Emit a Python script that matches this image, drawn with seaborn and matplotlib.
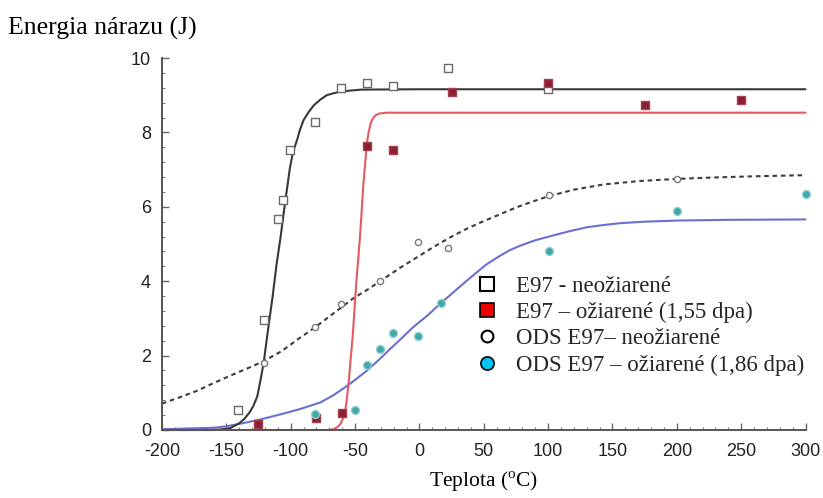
import numpy as np
import pandas as pd
import matplotlib
matplotlib.use("Agg")
import matplotlib.pyplot as plt
from matplotlib.lines import Line2D
from matplotlib.ticker import MultipleLocator
import seaborn as sns

# ---------------- data ----------------
# measured points
e97_x = [-141, -121, -110, -105.7, -100.5, -81, -61, -40.6, -20.5, 22.6, 100]
e97_y = [0.55, 2.97, 5.68, 6.17, 7.52, 8.28, 9.2, 9.32, 9.26, 9.72, 9.18]

e97irr_x = [-125.6, -80.5, -60.5, -40.7, -20.9, 25.3, 100, 175.6, 250.2]
e97irr_y = [0.15, 0.32, 0.46, 7.64, 7.52, 9.08, 9.32, 8.73, 8.86]

ods_x = [-121, -81, -61, -30.5, -0.7, 22.6, 100.4, 200.2]
ods_y = [1.81, 2.76, 3.39, 4.0, 5.05, 4.88, 6.33, 6.75]

odsirr_x = [-81, -50, -40.7, -30.5, -20.6, -0.7, 16.5, 100.4, 200.2, 300.5]
odsirr_y = [0.44, 0.55, 1.74, 2.19, 2.61, 2.52, 3.42, 4.81, 5.88, 6.35]

# fitted curves
fit_e97_x = [-200, -160, -153, -147, -140, -136, -132, -129, -126, -123.5, -121,
             -117, -114, -111, -108, -105, -100.5, -98, -95, -93, -90, -86, -82,
             -77, -72, -67, -62, -55, -45, 0, 100, 200, 300]
fit_e97_y = [0.0, 0.0, 0.02, 0.05, 0.18, 0.3, 0.47, 0.65, 0.9, 1.33, 1.81,
             2.85, 3.6, 4.45, 5.15, 5.95, 7.07, 7.5, 7.8, 8.05, 8.33, 8.55, 8.73,
             8.88, 9.0, 9.05, 9.09, 9.12, 9.15, 9.16, 9.16, 9.16, 9.16]

fit_e97irr_x = [-200, -100, -70, -66.8, -64, -61.6, -59.5, -57.7, -56.5, -55.1,
                -51.7, -49.1, -46, -43.5, -40.8, -39.5, -38, -36.5, -34, -31,
                -25, 0, 100, 200, 300]
fit_e97irr_y = [0.0, 0.0, 0.0, 0.02, 0.07, 0.15, 0.3, 0.51, 0.8, 1.23,
                2.58, 3.93, 5.27, 6.62, 7.7, 8.0, 8.22, 8.36, 8.46, 8.51,
                8.53, 8.53, 8.53, 8.53, 8.53]

fit_ods_x = [-200, -187, -173, -160, -147, -134, -121, -107, -94, -81, -67, -51,
             -40, -28, -15, -2, 11, 24, 35, 47, 60, 75, 87, 100, 120, 143, 170,
             200, 230, 260, 300]
fit_ods_y = [0.71, 0.87, 1.05, 1.26, 1.46, 1.65, 1.85, 2.12, 2.45, 2.76, 3.13,
             3.55, 3.78, 4.06, 4.36, 4.64, 4.92, 5.18, 5.38, 5.57, 5.76, 5.98,
             6.13, 6.28, 6.46, 6.6, 6.69, 6.75, 6.79, 6.82, 6.85]

fit_odsirr_x = [-200, -180, -160, -150, -139, -124, -108, -93, -85, -77, -67,
                -56, -48, -41, -32, -23, -14, -5, 6, 16, 27, 37, 45, 52, 63, 70,
                78, 90, 104, 115, 130, 143, 156, 175, 200, 240, 300]
fit_odsirr_y = [0.02, 0.04, 0.06, 0.1, 0.17, 0.28, 0.42, 0.56, 0.65, 0.74, 0.93,
                1.19, 1.4, 1.59, 1.87, 2.17, 2.46, 2.76, 3.07, 3.39, 3.72, 4.02,
                4.25, 4.45, 4.69, 4.83, 4.95, 5.1, 5.23, 5.33, 5.45, 5.51, 5.56,
                5.6, 5.63, 5.65, 5.66]

x_ticks = [-200, -150, -100, -50, 0, 50, 100, 150, 200, 250, 300]
y_ticks = [0, 2, 4, 6, 8, 10]

legend_labels = ["E97 - neožiarené",
                 "E97 – ožiarené (1,55 dpa)",
                 "ODS E97– neožiarené",
                 "ODS E97 – ožiarené (1,86 dpa)"]

# ---------------- figure ----------------
sns.set_style("ticks")
plt.rcParams["font.family"] = ["Liberation Sans", "DejaVu Sans"]
plt.rcParams["mathtext.fontset"] = "custom"
plt.rcParams["mathtext.rm"] = "Liberation Serif"

fig = plt.figure(figsize=(8.23, 4.98), dpi=100)
fig.patch.set_facecolor("white")
ax = fig.add_axes([162 / 823, 1 - 430 / 498, (805.5 - 162) / 823, (430 - 58) / 498])
ax.set_facecolor("white")

def curve(xs, ys, color, ls="-"):
    df = pd.DataFrame({"x": xs, "y": ys})
    sns.lineplot(data=df, x="x", y="y", ax=ax, color=color, linewidth=1.5,
                 sort=False, estimator=None, linestyle=ls, zorder=2,
                 clip_on=False)

curve(fit_ods_x, fit_ods_y, "#3c3c3c", ls=(0, (2.2, 1.8)))
curve(fit_odsirr_x, fit_odsirr_y, "#6b6fd0")
curve(fit_e97_x, fit_e97_y, "#383838")
curve(fit_e97irr_x, fit_e97irr_y, "#e35a62")

def points(xs, ys, marker, face, edge, size, lw=1.0):
    df = pd.DataFrame({"x": xs, "y": ys})
    sns.scatterplot(data=df, x="x", y="y", ax=ax, marker=marker, s=size,
                    facecolor=face, edgecolor=edge, linewidth=lw, zorder=4,
                    clip_on=False)

points(e97_x, e97_y, "s", "white", "#6a6a6a", 30)
points(e97irr_x, e97irr_y, "s", "#8e1f33", "#a04050", 32)
points(ods_x, ods_y, "o", "white", "#7a7a7a", 20)
points(odsirr_x, odsirr_y, "o", "#3fa9a9", "#8fcccc", 32)

ax.set_xlim(-200, 300)
ax.set_ylim(0, 10)
ax.set_xticks(x_ticks)
ax.set_yticks(y_ticks)
ax.set_xticklabels([str(v) for v in x_ticks])
ax.set_yticklabels([str(v) for v in y_ticks])
ax.xaxis.set_minor_locator(MultipleLocator(10))
ax.yaxis.set_minor_locator(MultipleLocator(0.4))
ax.tick_params(axis="both", which="major", direction="in", length=5, width=1,
               color="#666666", labelsize=13, labelcolor="#222222")
ax.tick_params(axis="both", which="minor", direction="in", length=2.5,
               width=0.8, color="#777777")
ax.tick_params(axis="x", which="major", pad=9)
ax.tick_params(axis="y", which="major", pad=8)
for side in ["top", "right"]:
    ax.spines[side].set_visible(False)
for side in ["left", "bottom"]:
    ax.spines[side].set_color("#555555")
    ax.spines[side].set_linewidth(1.4)
ax.set_xlabel("")
ax.set_ylabel("")

serif = ["Liberation Serif", "DejaVu Serif"]
fig.text(8 / 823, 1 - 28 / 498, "Energia nárazu (J)", family=serif,
         fontsize=18.5, ha="left", va="center", color="black")
fig.text(484 / 823, 1 - 482 / 498, r"Teplota ($^{\rm o}$C)", family=serif,
         fontsize=15.5, ha="center", va="center", color="black")

handles = [
    Line2D([], [], linestyle="none", marker="s", markersize=9.5,
           markerfacecolor="white", markeredgecolor="black", markeredgewidth=1.5),
    Line2D([], [], linestyle="none", marker="s", markersize=9.5,
           markerfacecolor="#ee0000", markeredgecolor="black", markeredgewidth=1.2),
    Line2D([], [], linestyle="none", marker="o", markersize=8.5,
           markerfacecolor="white", markeredgecolor="black", markeredgewidth=1.5),
    Line2D([], [], linestyle="none", marker="o", markersize=9.5,
           markerfacecolor="#00c4f4", markeredgecolor="black", markeredgewidth=1.2),
]
leg = ax.legend(handles, legend_labels, loc="upper left",
                bbox_to_anchor=(476 / 823, 1 - 276 / 498),
                bbox_transform=fig.transFigure, frameon=False, borderpad=0,
                borderaxespad=0, handlelength=1.0, handletextpad=0.75,
                labelspacing=0.22, prop={"family": serif, "size": 16.5})

fig.savefig("out.png", dpi=100, facecolor="white")
